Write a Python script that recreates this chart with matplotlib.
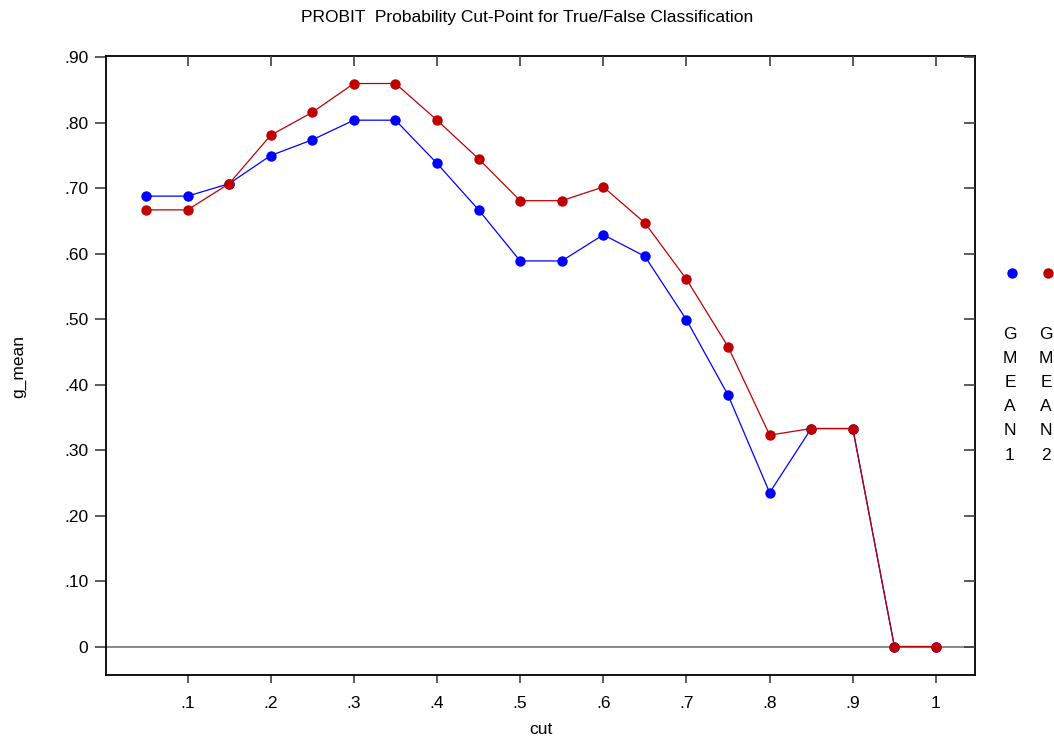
import matplotlib
matplotlib.use("Agg")
import matplotlib.pyplot as plt
from matplotlib.lines import Line2D
import numpy as np

# --- dados ---
cut = [0.05, 0.10, 0.15, 0.20, 0.25, 0.30, 0.35, 0.40, 0.45, 0.50,
       0.55, 0.60, 0.65, 0.70, 0.75, 0.80, 0.85, 0.90, 0.95, 1.00]
gmean1 = [0.688, 0.688, 0.707, 0.750, 0.774, 0.804, 0.804, 0.738, 0.667, 0.589,
          0.589, 0.629, 0.596, 0.499, 0.384, 0.235, 0.333, 0.333, 0.0, 0.0]
gmean2 = [0.667, 0.667, 0.707, 0.781, 0.816, 0.860, 0.860, 0.804, 0.745, 0.681,
          0.681, 0.702, 0.647, 0.561, 0.458, 0.323, 0.333, 0.333, 0.0, 0.0]
series_names = ["GMEAN1", "GMEAN2"]
xticks = [0.1, 0.2, 0.3, 0.4, 0.5, 0.6, 0.7, 0.8, 0.9, 1.0]
xtick_labels = [".1", ".2", ".3", ".4", ".5", ".6", ".7", ".8", ".9", "1"]
yticks = [0.0, 0.1, 0.2, 0.3, 0.4, 0.5, 0.6, 0.7, 0.8, 0.9]
ytick_labels = ["0", ".10", ".20", ".30", ".40", ".50", ".60", ".70", ".80", ".90"]

plt.rcParams['font.family'] = ['Liberation Sans', 'DejaVu Sans']

blue = "#0000FF"
red = "#C00000"

fig = plt.figure(figsize=(10.54, 7.40), dpi=100)
ax = fig.add_axes([0.1006, 0.0878, 0.8245, 0.8365])

ax.axhline(0, color="#808080", linewidth=1.3, zorder=1)
ax.plot(cut, gmean1, color=blue, linewidth=0.9, marker='o', markersize=7.5,
        markeredgewidth=0, zorder=3)
ax.plot(cut, gmean2, color=red, linewidth=0.9, marker='o', markersize=7.5,
        markeredgewidth=0, zorder=4)

ax.set_xlim(0.002, 1.047)
ax.set_ylim(-0.0435, 0.902)
ax.set_xticks(xticks)
ax.set_xticklabels(xtick_labels)
ax.set_yticks(yticks)
ax.set_yticklabels(ytick_labels)
ax.tick_params(axis='y', direction='out', length=7.7, width=1.2, color="#404040",
               labelsize=12.5, pad=5)
ax.tick_params(axis='x', direction='out', length=6, width=1.2, color="#404040",
               labelsize=12.5, pad=9)
for s in ax.spines.values():
    s.set_linewidth(1.3)

# ticks internos (direita e topo)
axr = ax.twinx()
axr.set_ylim(ax.get_ylim())
axr.set_yticks(yticks)
axr.tick_params(axis='y', direction='in', length=7.7, width=1.2, color="#404040",
                labelright=False)
axt = ax.twiny()
axt.set_xlim(ax.get_xlim())
axt.set_xticks(xticks)
axt.tick_params(axis='x', direction='in', length=7, width=1.2, color="#404040",
                labeltop=False)
for a in (axr, axt):
    for s in a.spines.values():
        s.set_visible(False)

fig.text(0.5, 0.977, "PROBIT  Probability Cut-Point for True/False Classification",
         ha='center', va='center', fontsize=12.5)
fig.text(0.5128, 0.014, "cut", ha='center', va='center', fontsize=12.5)
fig.text(0.018, 0.505, "g_mean", ha='center', va='center', rotation=90, fontsize=12.5)

# legenda
leg_x = [1010 / 1054, 1046 / 1054]
for xx, col, name in zip(leg_x, [blue, red], series_names):
    fig.add_artist(Line2D([xx + 0.002], [1 - 273 / 740], marker='o', markersize=7.5,
                          color=col, markeredgewidth=0, transform=fig.transFigure))
    fig.text(xx, 1 - 327 / 740, "\n".join(name), ha='center', va='top',
             fontsize=12.5, linespacing=1.76)

fig.savefig("out.png", dpi=100)
